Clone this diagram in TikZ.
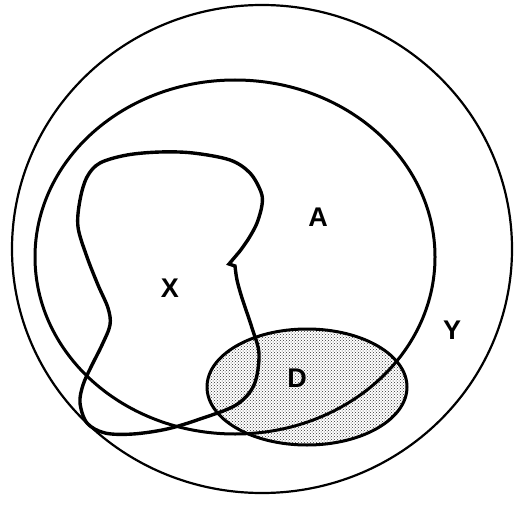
\documentclass[tikz,border=0pt]{standalone}
\usepackage{fontspec}
\setmainfont{Liberation Sans}
\usetikzlibrary{patterns}
\begin{document}
\begin{tikzpicture}[x=1pt,y=-1pt,
  lbl/.style={font=\fontsize{27}{30}\selectfont\bfseries, inner sep=0pt},
  thinline/.style={line width=2.2pt},
  midline/.style={line width=3pt},
  thickline/.style={line width=3.4pt, line join=miter}]
\useasboundingbox (0,0) rectangle (515,516);
% shaded set D
\fill[pattern=crosshatch dots, pattern color=black!80] (307,387) ellipse [x radius=100, y radius=58];
% outer set Y
\draw[thinline] (262,249) ellipse [x radius=250, y radius=244];
% set A
\draw[midline] (235,257) ellipse [x radius=200, y radius=177];
% set D outline
\draw[midline] (307,387) ellipse [x radius=100, y radius=58];
% set X
\draw[thickline] plot[smooth, tension=0.55] coordinates {
  (235,266) (237,280) (242,298) (252,328) (259,354) (254,385) (236,405)
  (200,419) (167,429) (133,434) (105,433) (87,423) (80,403) (83,385)
  (91,367) (102,345) (110,325) (108,308) (98,285) (87,257) (78,227)
  (80,200) (87,177) (100,163) (127,155) (160,152) (193,153) (230,160)
  (250,173) (261,192) (262,205) (257,223) (249,238) (240,251) }
  -- (229,264) -- cycle;
% labels
\node[lbl] (la) at (318,217) {A};
\node[lbl] (lx) at (170,288) {X};
\node[lbl] (ly) at (452,330) {Y};
\node[lbl] (ld) at (297,378) {D};
\end{tikzpicture}
\end{document}
